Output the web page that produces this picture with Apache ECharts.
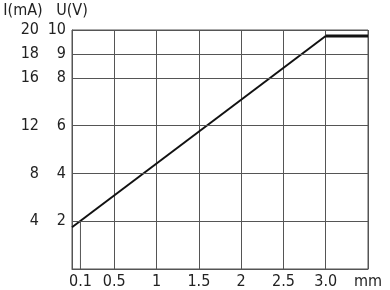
<!DOCTYPE html>
<html><head><meta charset="utf-8">
<script src="https://cdn.jsdelivr.net/npm/echarts@6/dist/echarts.min.js"></script>
<style>html,body{margin:0;padding:0;background:#fff}#c{width:390px;height:290px}</style>
</head><body><div id="c"></div>
<script>
// Data
const xTickValues = [0.1, 0.5, 1, 1.5, 2, 2.5, 3.0, 3.5];
const xTickLabels = ['0.1', '0.5', '1', '1.5', '2', '2.5', '3.0', 'mm'];
const vTickValues = [2, 4, 6, 8, 9, 10];
const mATickValues = [4, 8, 12, 16, 18, 20];
const rampData = [[0, 1.75], [3.0, 9.75]];
const plateauData = [[3.0, 9.75], [3.5, 9.75]];
const markerLine = [[0.1, 0], [0.1, 2]];

const gridColor = '#555';
const textColor = '#222';
const font = '"Liberation Sans Narrow", "DejaVu Sans Condensed", sans-serif';

const chart = echarts.init(document.getElementById('c'));
chart.setOption({
  animation: false,
  grid: {left: 72, top: 30, right: 22, bottom: 21, show: true, borderColor: gridColor, borderWidth: 1, backgroundColor: 'transparent'},
  xAxis: {
    type: 'value', min: 0, max: 3.5, interval: 0.5,
    axisLine: {show: true, lineStyle: {color: gridColor}},
    axisTick: {show: false},
    splitLine: {show: true, lineStyle: {color: gridColor, width: 1}},
    axisLabel: {
      customValues: xTickValues,
      margin: 5, color: textColor, fontFamily: font, fontSize: 16,
      formatter: v => { const i = xTickValues.findIndex(t => Math.abs(t - v) < 1e-6); return i >= 0 ? xTickLabels[i] : ''; }
    }
  },
  yAxis: [
    {
      type: 'value', min: 0, max: 10, position: 'left',
      name: 'U(V)', nameLocation: 'end', nameGap: 11,
      nameTextStyle: {color: textColor, fontFamily: font, fontSize: 16, align: 'center'},
      axisLine: {show: true, lineStyle: {color: gridColor}},
      axisTick: {show: false},
      splitLine: {show: false},
      axisLabel: {customValues: vTickValues, margin: 6, color: textColor, fontFamily: font, fontSize: 16}
    },
    {
      type: 'value', min: 0, max: 20, position: 'left', offset: 27,
      name: 'I(mA)', nameLocation: 'end', nameGap: 11,
      nameTextStyle: {color: textColor, fontFamily: font, fontSize: 16, align: 'center', padding: [0, 44, 0, 0]},
      axisLine: {show: false},
      axisTick: {show: false},
      splitLine: {show: false},
      axisLabel: {customValues: mATickValues, margin: 6, color: textColor, fontFamily: font, fontSize: 16}
    }
  ],
  series: [
    {
      type: 'line', data: markerLine, yAxisIndex: 0, symbol: 'none', silent: true,
      lineStyle: {color: gridColor, width: 1},
      markLine: {
        silent: true, symbol: 'none', label: {show: false},
        lineStyle: {color: gridColor, width: 1, type: 'solid'},
        data: vTickValues.map(v => ({yAxis: v}))
      }
    },
    {type: 'line', data: rampData, yAxisIndex: 0, symbol: 'none', silent: true, lineStyle: {color: '#111', width: 2}},
    {type: 'line', data: plateauData, yAxisIndex: 0, symbol: 'none', silent: true, lineStyle: {color: '#111', width: 3}}
  ]
});
</script></body></html>
